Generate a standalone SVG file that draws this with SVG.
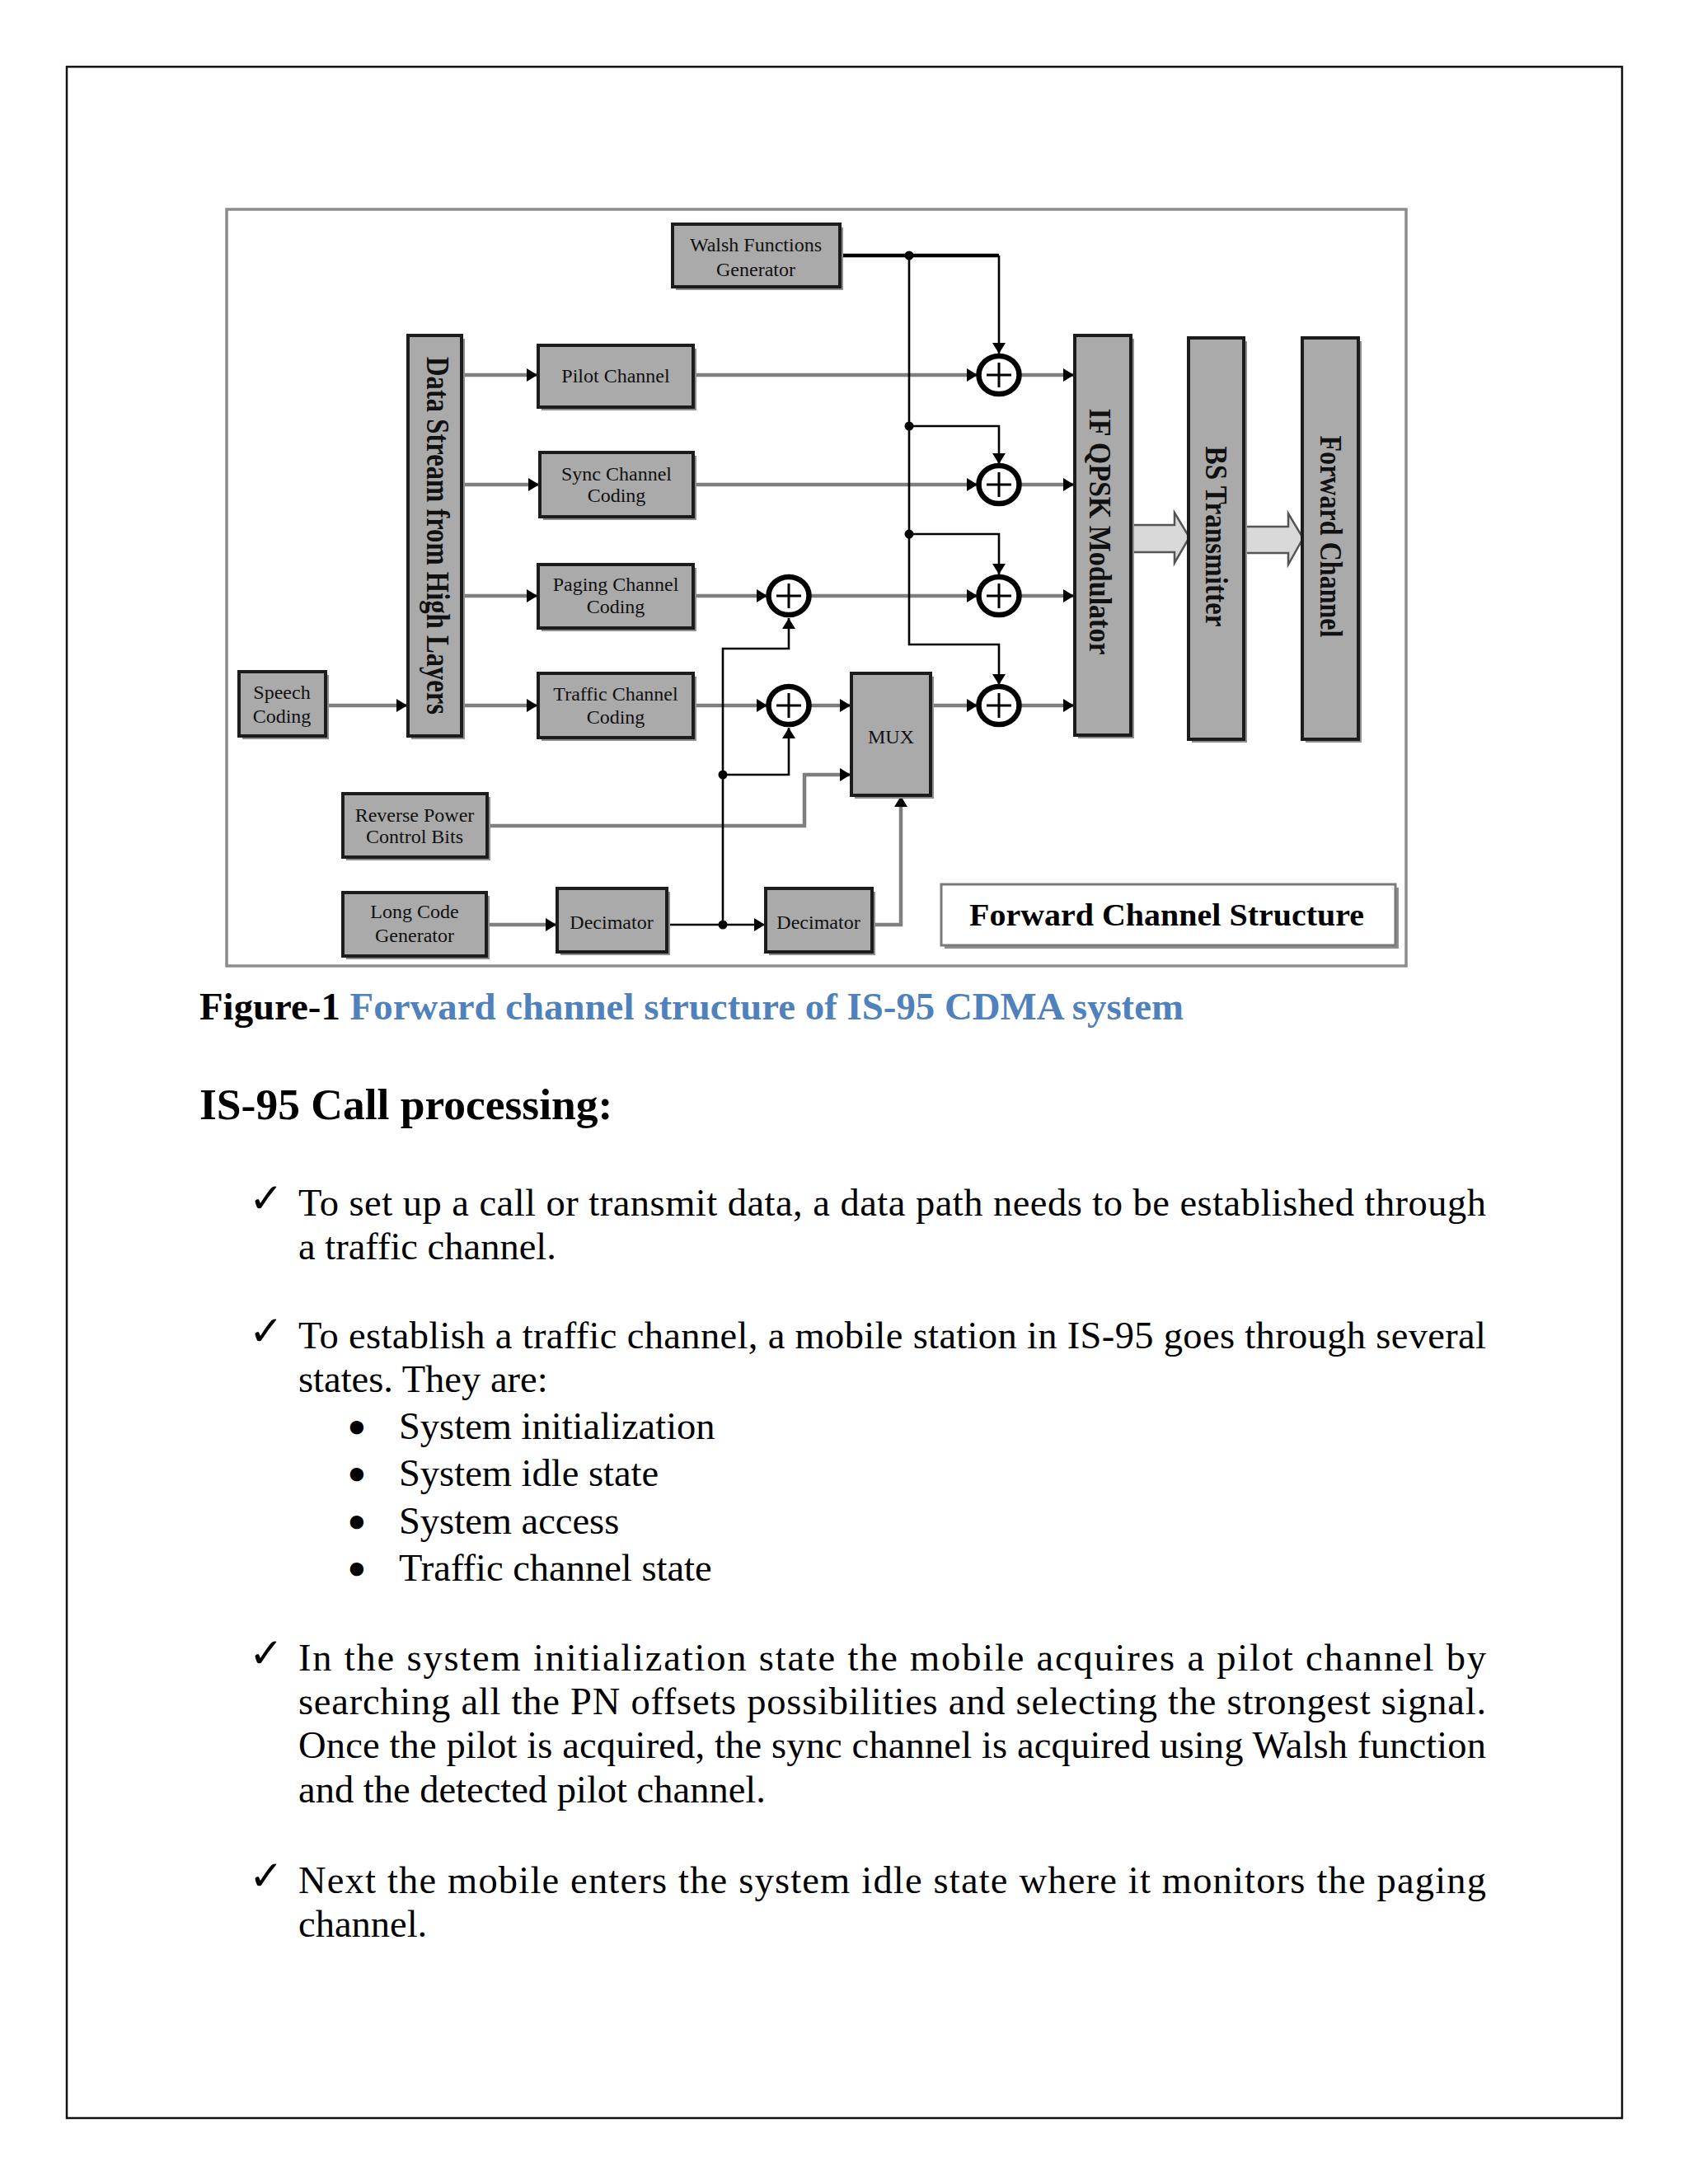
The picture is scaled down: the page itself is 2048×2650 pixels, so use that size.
<svg xmlns="http://www.w3.org/2000/svg" width="2048" height="2650" viewBox="0 0 2048 2650">
<style>
.box{fill:#aaaaaa;stroke:#1c1c1c;stroke-width:4}
.sh{fill:#8e8e8e}
.lbl{font-family:"Liberation Serif",serif;font-size:24px;fill:#111;text-anchor:middle}
.vt{font-family:"Liberation Serif",serif;font-weight:bold;fill:#111;text-anchor:middle}
.g{fill:none;stroke:#7f7f7f;stroke-width:4.5}
.k{fill:none;stroke:#000;stroke-width:2.6}
.xor{fill:#fff;stroke:#000;stroke-width:6.5}
.pl{stroke:#000;stroke-width:3}
.dot{fill:#000}
.body{font-family:"Liberation Serif",serif;font-size:46.5px;fill:#000}
.bul{font-family:"DejaVu Sans",sans-serif;font-weight:bold;font-size:46.5px;fill:#000}
.chk{font-family:"DejaVu Sans",sans-serif;font-size:50px;fill:#000}
</style>
<defs>
<marker id="ah" markerUnits="userSpaceOnUse" markerWidth="14" markerHeight="16" refX="13" refY="8" orient="auto">
<path d="M0,0 L13,8 L0,16 z" fill="#000"/>
</marker>
</defs>
<rect width="2048" height="2650" fill="#fff"/>
<rect x="81" y="81" width="1887" height="2489" fill="none" stroke="#111" stroke-width="2.5"/>
<rect x="275" y="254" width="1431" height="918" fill="none" stroke="#8c8c8c" stroke-width="3.5"/>

<g id="connectors">
<path class="g" d="M395,856 H494" marker-end="url(#ah)"/>
<path class="g" d="M560,455 H652" marker-end="url(#ah)"/>
<path class="g" d="M560,588 H654" marker-end="url(#ah)"/>
<path class="g" d="M560,723 H652" marker-end="url(#ah)"/>
<path class="g" d="M560,856 H652" marker-end="url(#ah)"/>
<path class="g" d="M841,455 H1186" marker-end="url(#ah)"/>
<path class="g" d="M841,588 H1186" marker-end="url(#ah)"/>
<path class="g" d="M841,723 H931" marker-end="url(#ah)"/>
<path class="g" d="M983,723 H1186" marker-end="url(#ah)"/>
<path class="g" d="M841,856 H931" marker-end="url(#ah)"/>
<path class="g" d="M983,856 H1032" marker-end="url(#ah)"/>
<path class="g" d="M1129,856 H1186" marker-end="url(#ah)"/>
<path class="g" d="M1238,455 H1303" marker-end="url(#ah)"/>
<path class="g" d="M1238,588 H1303" marker-end="url(#ah)"/>
<path class="g" d="M1238,723 H1303" marker-end="url(#ah)"/>
<path class="g" d="M1238,856 H1303" marker-end="url(#ah)"/>
<path class="g" d="M591,1002 H976 V940 H1032" marker-end="url(#ah)"/>
<path class="g" d="M590,1122 H675" marker-end="url(#ah)"/>
<path class="g" d="M1058,1122 H1093 V966" marker-end="url(#ah)"/>
<path fill="none" stroke="#000" stroke-width="4.5" d="M1019,310 H1212"/>
<path class="k" d="M1212,310 V429" marker-end="url(#ah)"/>
<path class="k" d="M1103,310 V782 H1212 V831" marker-end="url(#ah)"/>
<path class="k" d="M1103,517 H1212 V563" marker-end="url(#ah)"/>
<path class="k" d="M1103,648 H1212 V697" marker-end="url(#ah)"/>
<path class="k" d="M809,1122 H928" marker-end="url(#ah)"/>
<path class="k" d="M877,1122 V787 H957 V750" marker-end="url(#ah)"/>
<path class="k" d="M877,940 H957 V883" marker-end="url(#ah)"/>
<circle class="dot" cx="1103" cy="310" r="5.5"/>
<circle class="dot" cx="1103" cy="517" r="5.5"/>
<circle class="dot" cx="1103" cy="648" r="5.5"/>
<circle class="dot" cx="877" cy="940" r="5.5"/>
<circle class="dot" cx="877" cy="1122" r="5.5"/>
<polygon points="1372,637 1425,637 1425,622 1443,652 1425,683 1425,670 1372,670" fill="#d9d9d9" stroke="#555" stroke-width="2.5"/>
<polygon points="1509,639 1563,639 1563,623 1581,653 1563,685 1563,671 1509,671" fill="#d9d9d9" stroke="#555" stroke-width="2.5"/>
</g>

<g id="xor-paging"><ellipse class="xor" cx="957" cy="723" rx="24.5" ry="23"/><path class="pl" d="M942,723 H972 M957,708 V738"/></g>
<g id="xor-traffic"><ellipse class="xor" cx="957" cy="856" rx="24.5" ry="23"/><path class="pl" d="M942,856 H972 M957,841 V871"/></g>
<g id="xor-1"><ellipse class="xor" cx="1212" cy="455" rx="24.5" ry="23"/><path class="pl" d="M1197,455 H1227 M1212,440 V470"/></g>
<g id="xor-2"><ellipse class="xor" cx="1212" cy="588" rx="24.5" ry="23"/><path class="pl" d="M1197,588 H1227 M1212,573 V603"/></g>
<g id="xor-3"><ellipse class="xor" cx="1212" cy="723" rx="24.5" ry="23"/><path class="pl" d="M1197,723 H1227 M1212,708 V738"/></g>
<g id="xor-4"><ellipse class="xor" cx="1212" cy="856" rx="24.5" ry="23"/><path class="pl" d="M1197,856 H1227 M1212,841 V871"/></g>

<g id="walsh"><rect class="sh" x="820" y="276" width="203" height="76"/><rect class="box" x="816" y="272" width="203" height="76"/>
<text class="lbl" x="917" y="305">Walsh Functions</text><text class="lbl" x="917" y="335">Generator</text></g>

<g id="data-stream"><rect class="sh" x="499" y="411" width="65" height="486"/><rect class="box" x="495" y="407" width="65" height="486"/>
<text class="vt" font-size="40" transform="translate(518,650) rotate(90)" textLength="434" lengthAdjust="spacingAndGlyphs">Data Stream from High Layers</text></g>

<g id="pilot"><rect class="sh" x="657" y="423" width="188" height="75"/><rect class="box" x="653" y="419" width="188" height="75"/>
<text class="lbl" x="747" y="464">Pilot Channel</text></g>

<g id="sync"><rect class="sh" x="659" y="553" width="186" height="78"/><rect class="box" x="655" y="549" width="186" height="78"/>
<text class="lbl" x="748" y="583">Sync Channel</text><text class="lbl" x="748" y="609">Coding</text></g>

<g id="paging"><rect class="sh" x="657" y="689" width="188" height="77"/><rect class="box" x="653" y="685" width="188" height="77"/>
<text class="lbl" x="747" y="717">Paging Channel</text><text class="lbl" x="747" y="744">Coding</text></g>

<g id="traffic"><rect class="sh" x="657" y="821" width="188" height="78"/><rect class="box" x="653" y="817" width="188" height="78"/>
<text class="lbl" x="747" y="850">Traffic Channel</text><text class="lbl" x="747" y="878">Coding</text></g>

<g id="speech"><rect class="sh" x="294" y="819" width="105" height="78"/><rect class="box" x="290" y="815" width="105" height="78"/>
<text class="lbl" x="342" y="848">Speech</text><text class="lbl" x="342" y="877">Coding</text></g>

<g id="reverse-power"><rect class="sh" x="420" y="967" width="175" height="77"/><rect class="box" x="416" y="963" width="175" height="77"/>
<text class="lbl" x="503" y="997">Reverse Power</text><text class="lbl" x="503" y="1023">Control Bits</text></g>

<g id="long-code"><rect class="sh" x="420" y="1087" width="174" height="77"/><rect class="box" x="416" y="1083" width="174" height="77"/>
<text class="lbl" x="503" y="1114">Long Code</text><text class="lbl" x="503" y="1143">Generator</text></g>

<g id="decimator-1"><rect class="sh" x="680" y="1082" width="133" height="77"/><rect class="box" x="676" y="1078" width="133" height="77"/>
<text class="lbl" x="742" y="1127">Decimator</text></g>

<g id="decimator-2"><rect class="sh" x="933" y="1082" width="129" height="77"/><rect class="box" x="929" y="1078" width="129" height="77"/>
<text class="lbl" x="993" y="1127">Decimator</text></g>

<g id="mux"><rect class="sh" x="1037" y="821" width="96" height="148"/><rect class="box" x="1033" y="817" width="96" height="148"/>
<text class="lbl" x="1081" y="902" font-size="21">MUX</text></g>

<g id="if-qpsk"><rect class="sh" x="1308" y="411" width="68" height="485"/><rect class="box" x="1304" y="407" width="68" height="485"/>
<text class="vt" font-size="38" transform="translate(1322,645) rotate(90)" textLength="299" lengthAdjust="spacingAndGlyphs">IF  QPSK  Modulator</text></g>

<g id="bs-transmitter"><rect class="sh" x="1446" y="414" width="67" height="487"/><rect class="box" x="1442" y="410" width="67" height="487"/>
<text class="vt" font-size="38" transform="translate(1463,651) rotate(90)" textLength="219" lengthAdjust="spacingAndGlyphs">BS Transmitter</text></g>

<g id="forward-channel"><rect class="sh" x="1584" y="414" width="68" height="487"/><rect class="box" x="1580" y="410" width="68" height="487"/>
<text class="vt" font-size="38" transform="translate(1602,651) rotate(90)" textLength="245" lengthAdjust="spacingAndGlyphs">Forward  Channel</text></g>

<g id="fcs-label"><rect x="1146" y="1077" width="551" height="74" fill="#8e8e8e"/><rect x="1142" y="1073" width="551" height="74" fill="#fff" stroke="#7a7a7a" stroke-width="3"/>
<text font-family="Liberation Serif, serif" font-weight="bold" font-size="38" fill="#000" x="1176" y="1123" textLength="479" lengthAdjust="spacingAndGlyphs">Forward Channel Structure</text></g>

<g id="caption">
<text font-family="Liberation Serif, serif" font-weight="bold" font-size="46.8" x="242" y="1237" fill="#000" textLength="1194" lengthAdjust="spacing">Figure-1 <tspan fill="#4f81bd">Forward channel structure of IS-95 CDMA system</tspan></text>
<text font-family="Liberation Serif, serif" font-weight="bold" font-size="53.5" x="242" y="1358" fill="#000">IS-95 Call processing:</text>
</g>

<g id="body">
<text class="chk" x="302" y="1471">✓</text>
<text class="body" x="362" y="1475" textLength="1441" lengthAdjust="spacing">To set up a call or transmit data, a data path needs to be established through</text>
<text class="body" x="362" y="1528">a traffic channel.</text>
<text class="chk" x="302" y="1632">✓</text>
<text class="body" x="362" y="1636" textLength="1441" lengthAdjust="spacing">To establish a traffic channel, a mobile station in IS-95 goes through several</text>
<text class="body" x="362" y="1689">states. They are:</text>
<text class="bul" x="418" y="1749">•</text><text class="body" x="484" y="1746">System initialization</text>
<text class="bul" x="418" y="1806">•</text><text class="body" x="484" y="1803">System idle state</text>
<text class="bul" x="418" y="1864">•</text><text class="body" x="484" y="1861">System access</text>
<text class="bul" x="418" y="1921">•</text><text class="body" x="484" y="1918">Traffic channel state</text>
<text class="chk" x="302" y="2023">✓</text>
<text class="body" x="362" y="2027" textLength="1441" lengthAdjust="spacing">In the system initialization state the mobile acquires a pilot channel by</text>
<text class="body" x="362" y="2080" textLength="1441" lengthAdjust="spacing">searching all the PN offsets possibilities and selecting the strongest signal.</text>
<text class="body" x="362" y="2133" textLength="1441" lengthAdjust="spacing">Once the pilot is acquired, the sync channel is acquired using Walsh function</text>
<text class="body" x="362" y="2187">and the detected pilot channel.</text>
<text class="chk" x="302" y="2293">✓</text>
<text class="body" x="362" y="2297" textLength="1441" lengthAdjust="spacing">Next the mobile enters the system idle state where it monitors the paging</text>
<text class="body" x="362" y="2350">channel.</text>
</g>
</svg>
